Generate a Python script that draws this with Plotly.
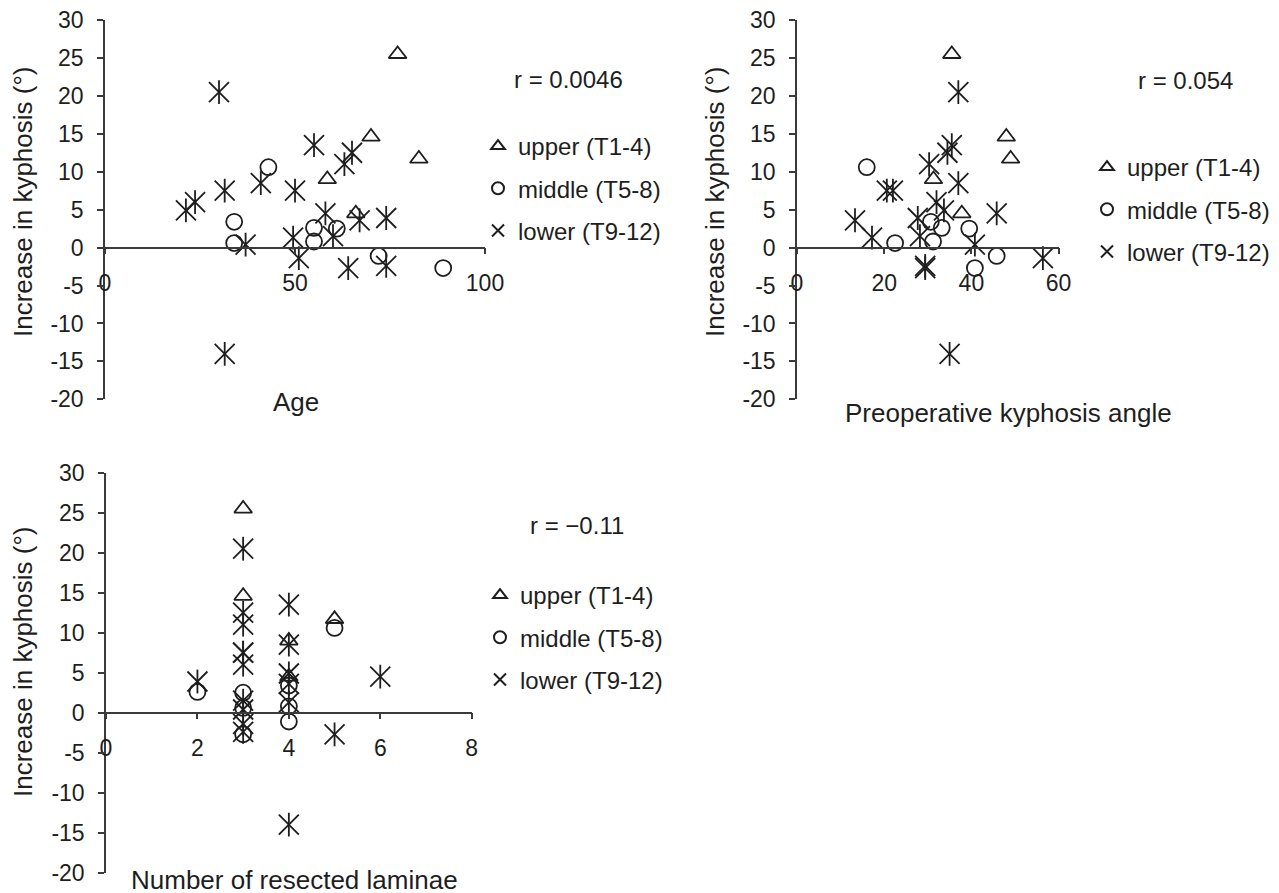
import plotly.graph_objects as go

W, H = 1279, 893
OFF = 8  # the page body adds an 8 px margin around the figure

# ---------------- data ----------------
group_names = ["upper (T1-4)", "middle (T5-8)", "lower (T9-12)"]

# increase in kyphosis (deg) per patient, by level
upper_inc = [25.5, 14.6, 11.7, 9.0, 4.5]
middle_inc = [10.6, 3.4, 2.6, 2.5, 0.8, 0.6, -1.1, -2.7]
lower_inc = [20.5, 13.5, 12.5, 11.0, 8.5, 7.5, 7.5, 6.0, 4.9, 4.5, 3.6, 3.9,
             1.5, 1.3, 0.4, -1.4, -2.4, -2.7, -14.0]

# age
upper_age = [77, 70, 82.6, 58.5, 66]
middle_age = [43, 34, 55, 61, 55, 34, 72, 89]
lower_age = [30, 55, 65, 63, 41, 31.5, 50, 23.7, 21.3, 58, 67, 74,
             60, 49.5, 37, 51, 74, 64, 31.5]

# preoperative kyphosis angle
upper_preop = [35.5, 48, 49, 31.3, 37.8]
middle_preop = [16, 30.7, 33.2, 39.5, 31.2, 22.5, 45.8, 40.8]
lower_preop = [37, 35.5, 34.5, 30.3, 37, 20.6, 22, 32, 33.7, 45.8, 13.3, 27.7,
               28.2, 17.2, 40.8, 56.4, 29.4, 29.4, 35]

# number of resected laminae
upper_lam = [3, 3, 5, 4, 4]
middle_lam = [5, 4, 2, 3, 4, 3, 4, 3]
lower_lam = [3, 4, 3, 3, 4, 3, 3, 3, 4, 6, 4, 2, 3, 4, 3, 3, 3, 5, 4]

r_labels = ["r = 0.0046", "r = 0.054", "r = \u22120.11"]
x_titles = ["Age", "Preoperative kyphosis angle", "Number of resected laminae"]
y_title = "Increase in kyphosis (°)"
x_ranges = [[0, 100], [0, 60], [0, 8]]
x_tickvals = [[0, 50, 100], [0, 20, 40, 60], [0, 2, 4, 6, 8]]
y_tickvals = [30, 25, 20, 15, 10, 5, 0, -5, -10, -15, -20]
y_ticktext = ["30", "25", "20", "15", "10", "5", "0", "-5", "-10", "-15", "-20"]

# ---------------- layout geometry (screen pixels) ----------------
panels = [
    dict(x0=105, x1=485, ytop=20, ybot=399.3),
    dict(x0=797, x1=1058.6, ytop=20, ybot=399.3),
    dict(x0=106, x1=471.7, ytop=472.7, ybot=872.7),
]
legend_pos = [(478, 124), (1087, 145), (480, 573)]
r_pos = [(568, 79), (1185, 80), (577, 525)]
ytitle_pos = [(23, 202), (715, 202), (23, 662)]
xtitle_pos = [(296, 402), (1008, 413), (294, 880)]


def fx(px):
    return (px - OFF) / W


def fy(py):
    return 1 - (py - OFF) / H


FONT = "Liberation Sans, Arial, sans-serif"
INK = "#1e1e1e"
AX = "#3a3a3a"

xs_all = [
    (upper_age, middle_age, lower_age),
    (upper_preop, middle_preop, lower_preop),
    (upper_lam, middle_lam, lower_lam),
]

fig = go.Figure()
for i, (ux, mx, lx) in enumerate(xs_all):
    xa = "x" if i == 0 else f"x{i+1}"
    ya = "y" if i == 0 else f"y{i+1}"
    lg = "legend" if i == 0 else f"legend{i+1}"
    fig.add_trace(go.Scatter(
        x=ux, y=upper_inc, mode="markers", name=group_names[0],
        xaxis=xa, yaxis=ya, legend=lg, legendgroup=f"u{i}",
        marker=dict(symbol="triangle-up-open", size=15.5, color=INK,
                    line=dict(width=1.8, color=INK))))
    fig.add_trace(go.Scatter(
        x=mx, y=middle_inc, mode="markers", name=group_names[1],
        xaxis=xa, yaxis=ya, legend=lg, legendgroup=f"m{i}",
        marker=dict(symbol="circle-open", size=16, color=INK,
                    line=dict(width=1.8, color=INK))))
    fig.add_trace(go.Scatter(
        x=lx, y=lower_inc, mode="markers", name=group_names[2],
        xaxis=xa, yaxis=ya, legend=lg, legendgroup=f"l{i}",
        marker=dict(symbol="x-thin-open", size=20, color=INK,
                    line=dict(width=1.8, color=INK))))
    fig.add_trace(go.Scatter(
        x=lx, y=lower_inc, mode="markers", showlegend=False,
        xaxis=xa, yaxis=ya, legendgroup=f"l{i}",
        marker=dict(symbol="line-ns-open", size=17, color=INK,
                    line=dict(width=1.8, color=INK))))

layout = dict(
    width=W, height=H,
    margin=dict(l=0, r=0, t=0, b=0, autoexpand=False),
    paper_bgcolor="white", plot_bgcolor="white",
    font=dict(family=FONT, color=INK, size=23),
    annotations=[],
)

for i, p in enumerate(panels):
    sfx = "" if i == 0 else str(i + 1)
    zero_py = p["ytop"] + (30 / 50) * (p["ybot"] - p["ytop"])
    layout[f"xaxis{sfx}"] = dict(
        domain=[fx(p["x0"]), fx(p["x1"])], range=x_ranges[i],
        anchor="free", position=fy(zero_py), automargin=False,
        ticklabeloverflow="allow",
        tickvals=x_tickvals[i], ticks="outside", ticklen=6, tickwidth=1.5,
        tickcolor=AX, showline=True, linecolor=AX, linewidth=1.5,
        showgrid=False, zeroline=False, ticklabelstandoff=9,
        tickfont=dict(size=23, family=FONT, color=INK), fixedrange=True)
    layout[f"yaxis{sfx}"] = dict(
        domain=[fy(p["ybot"]), fy(p["ytop"])], range=[-20, 30],
        anchor="x" + sfx, tickvals=y_tickvals, ticktext=y_ticktext,
        automargin=False, ticklabeloverflow="allow",
        ticks="outside", ticklen=6, tickwidth=1.5, tickcolor=AX,
        showline=True, linecolor=AX, linewidth=1.5,
        showgrid=False, zeroline=False, ticklabelstandoff=9,
        tickfont=dict(size=23, family=FONT, color=INK), fixedrange=True)
    lx, ly = legend_pos[i]
    layout[f"legend{sfx}"] = dict(
        x=fx(lx), y=fy(ly), xanchor="left", yanchor="top",
        bgcolor="rgba(0,0,0,0)", font=dict(size=24, family=FONT, color=INK),
        itemsizing="constant", tracegroupgap=8, itemwidth=30)
    layout["annotations"].append(dict(
        x=fx(r_pos[i][0]), y=fy(r_pos[i][1]), xref="paper", yref="paper",
        text=r_labels[i], showarrow=False, xanchor="center", yanchor="middle",
        font=dict(size=24, family=FONT, color=INK)))
    layout["annotations"].append(dict(
        x=fx(ytitle_pos[i][0]), y=fy(ytitle_pos[i][1]), xref="paper", yref="paper",
        text=y_title, textangle=-90, showarrow=False, xanchor="center",
        yanchor="middle", font=dict(size=26, family=FONT, color=INK)))
    layout["annotations"].append(dict(
        x=fx(xtitle_pos[i][0]), y=fy(xtitle_pos[i][1]), xref="paper", yref="paper",
        text=x_titles[i], showarrow=False, xanchor="center", yanchor="middle",
        font=dict(size=26, family=FONT, color=INK)))

fig.update_layout(**layout)
fig.write_html("out.html")
